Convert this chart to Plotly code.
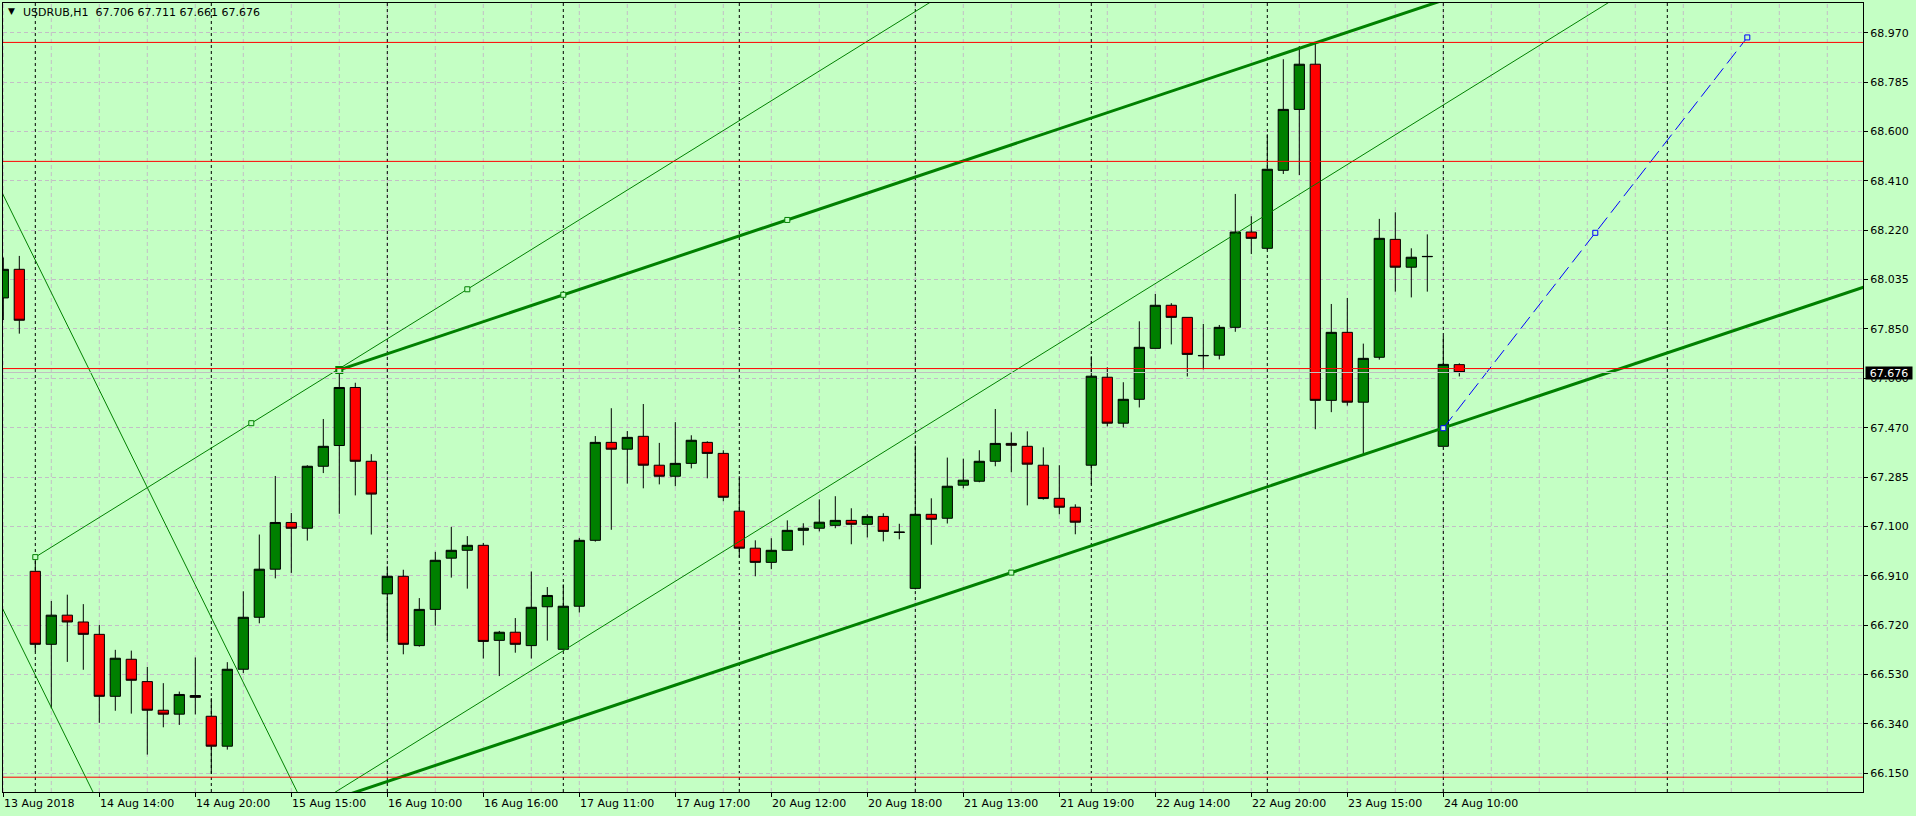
import plotly.graph_objects as go

# ---------------- data ----------------
bar_idx = list(range(92))
opens = [67.960, 68.069, 66.919, 66.641, 66.752, 66.726, 66.679, 66.443, 66.584, 66.499,
         66.390, 66.375, 66.446, 66.367, 66.253, 66.546, 66.744, 66.927, 67.105, 67.083,
         67.319, 67.398, 67.619, 67.338, 66.833, 66.900, 66.636, 66.774, 66.969, 66.999,
         67.018, 66.656, 66.687, 66.636, 66.784, 66.622, 66.786, 67.037, 67.410, 67.384,
         67.433, 67.323, 67.281, 67.330, 67.410, 67.368, 67.148, 67.007, 66.953, 66.999,
         67.075, 67.083, 67.094, 67.113, 67.098, 67.128, 67.069, 66.854, 67.136, 67.121,
         67.247, 67.262, 67.338, 67.406, 67.395, 67.323, 67.197, 67.163, 67.323, 67.658,
         67.483, 67.574, 67.768, 67.932, 67.886, 67.741, 67.742, 67.848, 68.211, 68.149,
         68.446, 68.678, 68.850, 67.570, 67.829, 67.563, 67.734, 68.183, 68.077, 68.117,
         67.395, 67.706]
highs = [68.114, 68.120, 66.974, 66.806, 66.830, 66.794, 66.715, 66.620, 66.617, 66.555,
         66.493, 66.461, 66.591, 66.436, 66.573, 66.843, 67.059, 67.282, 67.141, 67.323,
         67.499, 67.686, 67.637, 67.365, 66.938, 66.925, 66.817, 66.993, 67.088, 67.053,
         67.027, 66.692, 66.741, 66.918, 66.859, 66.869, 67.046, 67.434, 67.540, 67.453,
         67.556, 67.408, 67.487, 67.437, 67.414, 67.380, 67.281, 67.037, 67.045, 67.113,
         67.102, 67.193, 67.205, 67.159, 67.136, 67.140, 67.100, 67.397, 67.197, 67.352,
         67.348, 67.380, 67.537, 67.448, 67.452, 67.391, 67.323, 67.174, 67.738, 67.696,
         67.639, 67.871, 67.975, 67.940, 67.886, 67.861, 67.857, 68.356, 68.271, 68.583,
         68.869, 68.919, 68.930, 67.937, 67.960, 67.786, 68.261, 68.286, 68.149, 68.202,
         67.815, 67.711]
lows = [67.876, 67.824, 66.614, 66.397, 66.574, 66.544, 66.342, 66.388, 66.377, 66.221,
        66.325, 66.334, 66.374, 66.147, 66.240, 66.531, 66.721, 66.892, 66.913, 67.036,
        67.293, 67.138, 67.208, 67.059, 66.656, 66.603, 66.632, 66.712, 66.895, 66.853,
        66.587, 66.520, 66.609, 66.587, 66.655, 66.622, 66.762, 67.032, 67.077, 67.253,
        67.235, 67.250, 67.243, 67.311, 67.273, 67.186, 66.972, 66.900, 66.927, 66.999,
        67.018, 67.071, 67.083, 67.022, 67.048, 67.033, 67.041, 66.850, 67.020, 67.101,
        67.235, 67.258, 67.319, 67.296, 67.170, 67.192, 67.136, 67.060, 67.250, 67.471,
        67.467, 67.543, 67.768, 67.783, 67.661, 67.688, 67.726, 67.831, 68.127, 68.143,
        68.432, 68.428, 67.460, 67.525, 67.550, 67.362, 67.725, 67.984, 67.962, 67.984,
        67.395, 67.661]
closes = [68.069, 67.875, 66.641, 66.752, 66.726, 66.679, 66.443, 66.588, 66.504, 66.390,
          66.375, 66.450, 66.439, 66.253, 66.546, 66.744, 66.927, 67.105, 67.083, 67.319,
          67.395, 67.619, 67.338, 67.213, 66.900, 66.641, 66.774, 66.961, 66.999, 67.018,
          66.652, 66.687, 66.641, 66.782, 66.827, 66.786, 67.037, 67.410, 67.384, 67.429,
          67.323, 67.281, 67.330, 67.418, 67.368, 67.201, 67.007, 66.953, 66.999, 67.075,
          67.083, 67.106, 67.113, 67.098, 67.128, 67.071, 67.067, 67.136, 67.117, 67.243,
          67.266, 67.338, 67.406, 67.399, 67.327, 67.196, 67.163, 67.106, 67.662, 67.483,
          67.574, 67.772, 67.932, 67.886, 67.745, 67.740, 67.848, 68.211, 68.187, 68.450,
          68.678, 68.850, 67.570, 67.829, 67.563, 67.730, 68.187, 68.077, 68.115, 68.118,
          67.707, 67.676]

# price axis labels (MT4 rounding) and their grid values
y_tick_vals = [68.970 - k * 0.188 for k in range(16)]
y_tick_text = ["68.970", "68.785", "68.600", "68.410", "68.220", "68.035", "67.850", "67.660",
               "67.470", "67.285", "67.100", "66.910", "66.720", "66.530", "66.340", "66.150"]

# time axis labels
x_label_bars = [0, 6, 12, 18, 24, 30, 36, 42, 48, 54, 60, 66, 72, 78, 84, 90]
x_label_text = ["13 Aug 2018", "14 Aug 14:00", "14 Aug 20:00", "15 Aug 15:00", "16 Aug 10:00",
                "16 Aug 16:00", "17 Aug 11:00", "17 Aug 17:00", "20 Aug 12:00", "20 Aug 18:00",
                "21 Aug 13:00", "21 Aug 19:00", "22 Aug 14:00", "22 Aug 20:00", "23 Aug 15:00",
                "24 Aug 10:00"]
day_start_bars = [2, 13, 24, 35, 46, 57, 68, 79, 90, 104]

# horizontal levels
red_levels = [68.933, 68.480, 67.691, 66.135]
last_price = 67.676

# trend lines (bar index, price)
desc1_x, desc1_y = [-1, 19], [68.475, 66.001]
desc2_x, desc2_y = [-1, 7], [66.895, 65.906]
thin_up_x, thin_up_y = [2, 60], [66.973, 69.164]
thin_up_pts_x, thin_up_pts_y = [2, 15.5, 29], [66.973, 67.483, 67.993]
thin_par_x, thin_par_y = [15, 102], [65.861, 69.148]
chan_top_x, chan_top_y = [21, 95], [67.686, 69.196]
chan_top_pts_x, chan_top_pts_y = [35, 49], [67.972, 68.257]
chan_start_x, chan_start_y = [21], [67.686]
chan_bot_x, chan_bot_y = [15, 120], [65.935, 68.077]
chan_bot_pts_x, chan_bot_pts_y = [63], [66.914]
blue_x, blue_y = [90, 109], [67.464, 68.952]
blue_pts_x, blue_pts_y = [90, 99.5, 109], [67.464, 68.208, 68.952]

# ---------------- styling ----------------
BG = "rgb(196,255,196)"
GRID = "rgb(195,190,198)"
GREEN = "#008000"
FONT = "DejaVu Sans"
W, H = 1916, 816
ML, MR, MT, MB = 3, 53, 3, 24
PW = W - ML - MR
PH = H - MT - MB
X0 = -0.019
X1 = X0 + PW / 16.0
Y1 = 68.970 + (32.7 - MT) * 0.003808
Y0 = 68.970 - (H - MB - 32.7) * 0.003808

fig = go.Figure()

fig.add_trace(go.Candlestick(
    x=bar_idx, open=opens, high=highs, low=lows, close=closes,
    increasing=dict(fillcolor=GREEN, line=dict(color="black", width=1)),
    decreasing=dict(fillcolor="#FF0000", line=dict(color="black", width=1)),
    whiskerwidth=0, hoverinfo="skip", showlegend=False,
))


def line(xs, ys, color=GREEN, width=1, dash="solid"):
    fig.add_trace(go.Scatter(x=xs, y=ys, mode="lines",
                             line=dict(color=color, width=width, dash=dash),
                             hoverinfo="skip", showlegend=False))


def pts(xs, ys, color=GREEN, size=5, lw=1):
    fig.add_trace(go.Scatter(x=xs, y=ys, mode="markers",
                             marker=dict(symbol="square", size=size, color=BG,
                                         line=dict(color=color, width=lw)),
                             hoverinfo="skip", showlegend=False))


line(desc1_x, desc1_y)
line(desc2_x, desc2_y)
line(thin_up_x, thin_up_y)
line(thin_par_x, thin_par_y)
line(chan_top_x, chan_top_y, width=3)
line(chan_bot_x, chan_bot_y, width=3)
line(blue_x, blue_y, color="#0000FF", width=1, dash="15px,6px")
pts(thin_up_pts_x, thin_up_pts_y)
pts(chan_top_pts_x, chan_top_pts_y)
pts(chan_bot_pts_x, chan_bot_pts_y)
pts(chan_start_x, chan_start_y, size=6, lw=2)
pts(blue_pts_x, blue_pts_y, color="#0000FF")

shapes = []
# vertical grid every 3 bars
for b in range(0, 117, 3):
    shapes.append(dict(type="line", xref="x", yref="paper", x0=b, x1=b, y0=0, y1=1,
                       layer="below", line=dict(color=GRID, width=1, dash="4px,3px")))
# day separators
for b in day_start_bars:
    shapes.append(dict(type="line", xref="x", yref="paper", x0=b, x1=b, y0=0, y1=1,
                       layer="below", line=dict(color="black", width=1, dash="3px,3px")))
# last price line
shapes.append(dict(type="line", xref="paper", yref="y", x0=0, x1=1, y0=last_price, y1=last_price,
                   layer="above", line=dict(color="rgb(192,192,192)", width=1)))
# red levels
for lv in red_levels:
    shapes.append(dict(type="line", xref="paper", yref="y", x0=0, x1=1, y0=lv, y1=lv,
                       layer="above", line=dict(color="#FF0000", width=1)))

annotations = []
for b, t in zip(x_label_bars, x_label_text):
    annotations.append(dict(x=b, y=0, xref="x", yref="paper", text=t, showarrow=False,
                            xanchor="left", yanchor="top", xshift=-1, yshift=-3,
                            font=dict(family=FONT, size=11, color="black")))
# title
annotations.append(dict(x=(21 - ML) / PW, y=1 - (12.7 - MT) / PH, xref="paper", yref="paper",
                        text="USDRUB,H1  67.706 67.711 67.661 67.676", showarrow=False,
                        xanchor="left", yanchor="middle",
                        font=dict(family=FONT, size=11, color="black")))
annotations.append(dict(x=(11 - ML) / PW, y=1 - (11.5 - MT) / PH, xref="paper", yref="paper",
                        text="▼", showarrow=False, xanchor="center", yanchor="middle",
                        font=dict(family=FONT, size=9, color="black")))
# last price label
annotations.append(dict(x=1 + 2 / PW, y=last_price, xref="paper", yref="y", text="67.676",
                        showarrow=False, xanchor="left", yanchor="middle", width=46, height=12,
                        align="center", bgcolor="black", borderpad=0,
                        font=dict(family=FONT, size=11, color="white")))

fig.update_layout(
    width=W, height=H,
    margin=dict(l=ML, r=MR, t=MT, b=MB, pad=0),
    paper_bgcolor=BG, plot_bgcolor=BG,
    showlegend=False, hovermode=False,
    boxgap=0.36, boxgroupgap=0,
    shapes=shapes, annotations=annotations,
    xaxis=dict(range=[X0, X1], rangeslider=dict(visible=False), showgrid=False, zeroline=False,
               tickmode="array", tickvals=x_label_bars, ticktext=[""] * len(x_label_bars),
               ticks="outside", ticklen=4, tickcolor="black", showticklabels=False,
               showline=True, linecolor="black", linewidth=1, mirror=True),
    yaxis=dict(range=[Y0, Y1], side="right", showgrid=True, gridcolor=GRID, griddash="4px,3px",
               zeroline=False, tickmode="array", tickvals=y_tick_vals, ticktext=y_tick_text,
               ticks="outside", ticklen=4, tickcolor="black",
               tickfont=dict(family=FONT, size=11, color="black"),
               showline=True, linecolor="black", linewidth=1, mirror=True),
)

fig.write_html("out.html", config={"displayModeBar": False},
               post_script="document.body.style.margin='0px';document.body.style.background='" + BG + "';")
